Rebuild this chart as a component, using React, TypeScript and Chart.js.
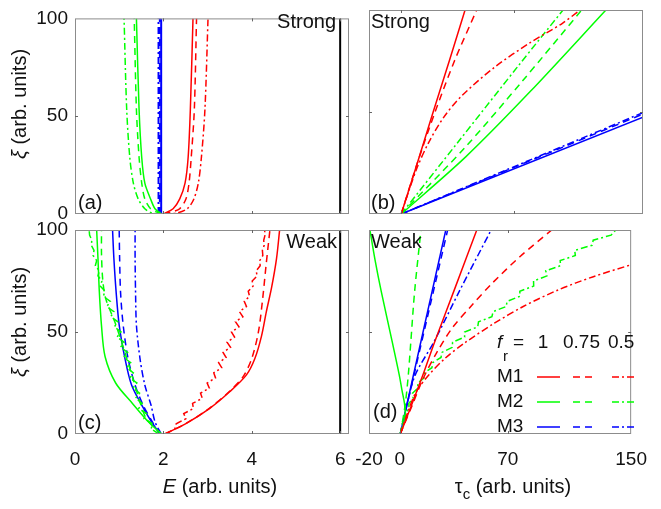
import React, { useEffect, useRef } from "react";
import { Chart, registerables } from "chart.js";
Chart.register(...registerables);

const W = 661;
const H = 509;
const FONT = "'Liberation Sans', Arial, Helvetica, sans-serif";
const RED = "#ff0000";
const GREEN = "#00ff00";
const BLUE = "#0000ff";
const BLACK = "#000000";
const SOLID: number[] = [];
const DASH = [7, 5];
const DASHDOT = [7, 3, 2, 3];

// tick values
const eTicks = [0, 2, 4, 6];
const tauTicks = [-20, 0, 70, 150];
const xiTicks = [0, 50, 100];

// legend texts
const frValues = ["1", "0.75", "0.5"];
const modelNames = ["M1", "M2", "M3"];

// ---------- Panel (a): Strong, [E, xi] ----------
const aM1f1 = [[2.0, 0], [2.22, 2.7], [2.37, 7.7], [2.49, 15.8], [2.56, 28.9], [2.61, 53.4], [2.67, 100]];
const aM1f075 = [[2.0, 0], [2.22, 1.2], [2.37, 2.7], [2.51, 7.7], [2.58, 15.8], [2.63, 28.9], [2.7, 53.4], [2.75, 100]];
const aM1f05 = [[2.0, 0], [2.3, 0.5], [2.54, 2.7], [2.69, 7.7], [2.79, 15.8], [2.86, 28.9], [2.94, 53.4], [3.01, 100]];
const aM2f1 = [[1.96, 0], [1.81, 2.7], [1.71, 7.7], [1.58, 15.8], [1.51, 28.9], [1.45, 53.4], [1.39, 100]];
const aM2f075 = [[1.96, 0], [1.85, 1], [1.71, 2.7], [1.58, 7.7], [1.51, 15.8], [1.45, 28.9], [1.39, 53.4], [1.34, 100]];
const aM2f05 = [[1.96, 0], [1.75, 0.5], [1.58, 2.7], [1.43, 7.7], [1.32, 15.8], [1.24, 28.9], [1.17, 53.4], [1.11, 100]];
const aM3f1 = [[1.95, 0], [1.95, 100]];
const aM3f075 = [[1.92, 0], [1.92, 100]];
const aM3f05 = [[1.89, 0], [1.89, 100]];
const refLineE = [[6, 0], [6, 100]];

// ---------- Panel (b): Strong, [tau, xi] ----------
const bM1f1 = [[0, 0], [10, 25], [20, 50.5], [30, 75.5], [39.6, 100]];
const bM1f075 = [[0, 0], [10, 25], [21, 50], [33, 75], [46.8, 100]];
const bM1f05 = [[0, 0], [5, 12], [10, 23], [17, 35], [26, 47], [37, 57.5], [58, 72], [80, 84], [100, 93.5], [111, 100]];
const bM2f1 = [[0, 0], [40, 28], [80, 60], [127, 100]];
const bM2f075 = [[0, 0], [40, 33], [75, 65], [112, 100]];
const bM2f05 = [[0, 0], [36, 36], [73, 73], [100.4, 100]];
const bM3f1 = [[0, 0], [150, 47.5]];
const bM3f075 = [[0, 0], [150, 49]];
const bM3f05 = [[0, 0], [150, 49.7]];

// ---------- Panel (c): Weak, [E, xi] ----------
const cM1f1 = [[2.03, 0], [2.5, 5], [3.05, 12.6], [3.5, 20.7], [3.88, 29], [4.07, 37], [4.22, 48], [4.33, 60], [4.45, 72], [4.56, 86], [4.63, 100]];
const cM1f075 = [[2.03, 0], [2.5, 5], [3.0, 12], [3.45, 20], [3.8, 28], [4.0, 37], [4.15, 50], [4.24, 65], [4.32, 82], [4.41, 100]];
const cM2f1 = [[1.96, 0], [1.66, 6], [1.3, 15], [0.92, 25], [0.68, 38], [0.6, 53], [0.55, 70], [0.52, 86], [0.49, 100]];
const cM2f075 = [[1.96, 0], [1.75, 4], [1.6, 8], [1.45, 17], [1.3, 28], [1.1, 42], [0.9, 55], [0.7, 66], [0.63, 75], [0.6, 88], [0.6, 100]];
const cM3f1 = [[1.92, 0], [1.73, 6], [1.51, 14.2], [1.28, 24], [1.13, 37.1], [1.0, 53.4], [0.93, 69.8], [0.88, 86], [0.85, 100]];
const cM3f075 = [[1.93, 0], [1.75, 6], [1.54, 14.2], [1.36, 24], [1.2, 37.1], [1.09, 53.4], [1.03, 69.8], [1.01, 86], [1.0, 100]];
const cM3f05 = [[1.95, 0], [1.81, 6], [1.72, 14.2], [1.58, 24], [1.47, 37.1], [1.39, 53.4], [1.37, 69.8], [1.36, 86], [1.36, 100]];
// noisy curves sampled on a common xi grid
const xiGrid = [0, 2.5, 5, 7.5, 10, 12.5, 15, 17.5, 20, 22.5, 25, 27.5, 30, 32.5, 35, 37.5, 40, 42.5, 45, 47.5, 50, 52.5, 55, 57.5, 60, 62.5, 65, 67.5, 70, 72.5, 75, 77.5, 80, 82.5, 85, 87.5, 90, 92.5, 95, 97.5, 100];
const cM1f05E = [2.05, 2.26, 2.29, 2.51, 2.46, 2.68, 2.66, 2.88, 2.84, 3.04, 2.99, 3.18, 3.14, 3.32, 3.25, 3.42, 3.35, 3.52, 3.44, 3.61, 3.54, 3.71, 3.63, 3.8, 3.72, 3.88, 3.83, 3.95, 3.92, 4.03, 4.01, 4.12, 4.1, 4.19, 4.18, 4.25, 4.24, 4.28, 4.27, 4.3, 4.29];
const cM2f05E = [1.9, 1.72, 1.76, 1.56, 1.62, 1.44, 1.52, 1.37, 1.46, 1.31, 1.4, 1.24, 1.32, 1.17, 1.26, 1.1, 1.19, 1.03, 1.11, 0.95, 1.04, 0.89, 0.97, 0.81, 0.88, 0.72, 0.8, 0.64, 0.68, 0.57, 0.61, 0.52, 0.55, 0.46, 0.49, 0.41, 0.43, 0.37, 0.38, 0.33, 0.32];

// ---------- Panel (d): Weak, [tau, xi] ----------
const dM1f1 = [[0.3, 0], [7.5, 14], [15, 29], [22.5, 45], [36, 72], [49.9, 100]];
const dM1f075 = [[0.3, 0], [8, 14], [15, 27], [24, 40], [34, 52], [46, 62.5], [60, 74], [78, 87], [98.5, 100]];
const dM1f05 = [[0.3, 0], [5.3, 11], [10.6, 20.7], [18.9, 29], [29.2, 37], [42.7, 45], [61.3, 54.3], [80, 62.5], [102.6, 70.6], [125, 77], [150, 83]];
const dM2f1 = [[0.3, 0], [2.5, 5], [3.5, 10], [3.0, 15], [1.5, 21], [-0.4, 29], [-4.9, 45], [-12.1, 70], [-16, 85], [-19.4, 100]];
const dM2f075 = [[0.3, 0], [3.4, 14], [5.5, 29], [7.1, 45], [9.6, 70], [13.7, 100]];
const dM2f05Tau = [0, 1.5, 1.5, 3.8, 3.3, 6, 5.8, 8.6, 8.2, 11.7, 11.6, 15.7, 16, 20.8, 21.4, 26.7, 27.3, 34, 34.2, 42, 42, 50.5, 51, 59.7, 60.5, 69, 69.5, 77.9, 77.8, 86.8, 86.7, 95.4, 94.6, 104.2, 104, 113.8, 113.4, 124.6, 125.4, 137, 140];
const dM3f1 = [[0.3, 0], [29.8, 100]];
const dM3f075 = [[0.3, 0], [31, 100]];
const dM3f05 = [[0.3, 0], [4.5, 14], [10, 29], [22, 45], [38.6, 70], [59.2, 100]];

// ---------- helpers ----------
function pairs(xs: number[], ys: number[]) {
  return xs.map((x, i) => [x, ys[i]]);
}

function ds(points: number[][], color: string, dash: number[], tension = 0.3, width = 1.5) {
  return {
    data: points.map(([x, y]) => ({ x, y })),
    borderColor: color,
    backgroundColor: color,
    borderWidth: width,
    borderDash: dash,
    pointRadius: 0,
    pointHoverRadius: 0,
    showLine: true,
    fill: false,
    tension,
  };
}

type Part = { t: string; italic?: boolean; size?: number; dy?: number };

function font(size: number, italic = false) {
  return `${italic ? "italic " : ""}${size}px ${FONT}`;
}

function richWidth(ctx: CanvasRenderingContext2D, parts: Part[], base: number) {
  let w = 0;
  for (const p of parts) {
    ctx.font = font(p.size || base, p.italic);
    w += ctx.measureText(p.t).width;
  }
  return w;
}

function drawRich(ctx: CanvasRenderingContext2D, parts: Part[], cx: number, cy: number, base: number, rotate = false) {
  ctx.save();
  ctx.translate(cx, cy);
  if (rotate) ctx.rotate(-Math.PI / 2);
  ctx.fillStyle = "#111";
  ctx.textBaseline = "middle";
  ctx.textAlign = "left";
  let x = -richWidth(ctx, parts, base) / 2;
  for (const p of parts) {
    ctx.font = font(p.size || base, p.italic);
    ctx.fillText(p.t, x, p.dy || 0);
    x += ctx.measureText(p.t).width;
  }
  ctx.restore();
}

function text(ctx: CanvasRenderingContext2D, s: string, x: number, y: number, align: CanvasTextAlign = "left", size = 20, italic = false) {
  ctx.save();
  ctx.font = font(size, italic);
  ctx.fillStyle = "#111";
  ctx.textAlign = align;
  ctx.textBaseline = "middle";
  ctx.fillText(s, x, y);
  ctx.restore();
}

function seg(ctx: CanvasRenderingContext2D, x1: number, x2: number, y: number, color: string, dash: number[]) {
  ctx.save();
  ctx.strokeStyle = color;
  ctx.lineWidth = 1.5;
  ctx.setLineDash(dash);
  ctx.beginPath();
  ctx.moveTo(x1, y);
  ctx.lineTo(x2, y);
  ctx.stroke();
  ctx.restore();
}

const yTitle: Part[] = [{ t: "ξ", italic: true }, { t: " (arb. units)" }];

type PanelCfg = {
  area: [number, number, number, number];
  xMin: number;
  xMax: number;
  xTicks: number[];
  showX: boolean;
  showY: boolean;
  datasets: any[];
  draw: (ctx: CanvasRenderingContext2D) => void;
};

const panels: PanelCfg[] = [
  {
    area: [75, 10, 349, 214],
    xMin: 0,
    xMax: 6.2,
    xTicks: eTicks,
    showX: false,
    showY: true,
    datasets: [
      ds(refLineE, BLACK, SOLID, 0, 2),
      ds(aM1f1, RED, SOLID),
      ds(aM1f075, RED, DASH),
      ds(aM1f05, RED, DASHDOT),
      ds(aM2f1, GREEN, SOLID),
      ds(aM2f075, GREEN, DASH),
      ds(aM2f05, GREEN, DASHDOT),
      ds(aM3f1, BLUE, SOLID, 0, 2),
      ds(aM3f075, BLUE, DASH, 0, 2),
      ds(aM3f05, BLUE, DASHDOT, 0, 2),
    ],
    draw: (ctx) => {
      text(ctx, "Strong", 336, 22, "right");
      text(ctx, "(a)", 78, 203);
      drawRich(ctx, yTitle, 20, 104, 20, true);
    },
  },
  {
    area: [369, 10, 643, 214],
    xMin: -20,
    xMax: 150,
    xTicks: tauTicks,
    showX: false,
    showY: false,
    datasets: [
      ds(bM1f1, RED, SOLID),
      ds(bM1f075, RED, DASH),
      ds(bM1f05, RED, DASHDOT),
      ds(bM2f1, GREEN, SOLID),
      ds(bM2f075, GREEN, DASH),
      ds(bM2f05, GREEN, DASHDOT),
      ds(bM3f1, BLUE, SOLID, 0),
      ds(bM3f075, BLUE, DASH, 0),
      ds(bM3f05, BLUE, DASHDOT, 0),
    ],
    draw: (ctx) => {
      text(ctx, "Strong", 371, 22);
      text(ctx, "(b)", 371, 203);
    },
  },
  {
    area: [75, 230, 349, 434],
    xMin: 0,
    xMax: 6.2,
    xTicks: eTicks,
    showX: true,
    showY: true,
    datasets: [
      ds(refLineE, BLACK, SOLID, 0, 2),
      ds(cM1f1, RED, SOLID),
      ds(cM1f075, RED, DASH),
      ds(pairs(cM1f05E, xiGrid), RED, DASHDOT, 0),
      ds(cM2f1, GREEN, SOLID),
      ds(cM2f075, GREEN, DASH),
      ds(pairs(cM2f05E, xiGrid), GREEN, DASHDOT, 0),
      ds(cM3f1, BLUE, SOLID),
      ds(cM3f075, BLUE, DASH),
      ds(cM3f05, BLUE, DASHDOT),
    ],
    draw: (ctx) => {
      text(ctx, "Weak", 337, 242, "right");
      text(ctx, "(c)", 78, 423);
      drawRich(ctx, yTitle, 20, 322, 20, true);
      drawRich(ctx, [{ t: "E", italic: true }, { t: " (arb. units)" }], 220, 487, 20);
    },
  },
  {
    area: [369, 230, 643, 434],
    xMin: -20,
    xMax: 150,
    xTicks: tauTicks,
    showX: true,
    showY: false,
    datasets: [
      ds(dM1f1, RED, SOLID),
      ds(dM1f075, RED, DASH),
      ds(dM1f05, RED, DASHDOT),
      ds(dM2f1, GREEN, SOLID),
      ds(dM2f075, GREEN, DASH),
      ds(pairs(dM2f05Tau, xiGrid), GREEN, DASHDOT, 0),
      ds(dM3f1, BLUE, SOLID, 0),
      ds(dM3f075, BLUE, DASH, 0),
      ds(dM3f05, BLUE, DASHDOT),
    ],
    draw: (ctx) => {
      text(ctx, "Weak", 371, 242);
      text(ctx, "(d)", 373, 412);
      drawRich(ctx, [{ t: "τ" }, { t: "c", size: 15, dy: 8 }, { t: " (arb. units)" }], 513, 487, 20);
      // legend
      text(ctx, "f", 497, 343, "left", 19, true);
      text(ctx, "r", 503, 357, "left", 15);
      text(ctx, "=", 513, 343, "left", 19);
      text(ctx, frValues[0], 543, 343, "center", 19);
      text(ctx, frValues[1], 563, 343, "left", 19);
      text(ctx, frValues[2], 608, 343, "left", 19);
      const rows = [RED, GREEN, BLUE];
      const ys = [377, 402, 427];
      rows.forEach((c, i) => {
        text(ctx, modelNames[i], 497, ys[i], "left", 19);
        seg(ctx, 537, 560, ys[i], c, SOLID);
        seg(ctx, 573, 594, ys[i], c, DASH);
        seg(ctx, 612, 636, ys[i], c, DASHDOT);
      });
    },
  },
];

function buildConfig(p: PanelCfg): any {
  const [L, T, R, B] = p.area;
  const yW = p.showY ? 50 : 6;
  const xH = p.showX ? 40 : 6;
  const tickFont = { family: FONT, size: 19 };
  const deco = {
    id: "deco",
    afterDatasetsDraw(chart: any) {
      const ctx: CanvasRenderingContext2D = chart.ctx;
      const { left, top, right, bottom } = chart.chartArea;
      const xs = chart.scales.x;
      const ys = chart.scales.y;
      ctx.save();
      ctx.strokeStyle = "#8c8c8c";
      ctx.lineWidth = 1;
      ctx.strokeRect(left + 0.5, top + 0.5, right - left - 1, bottom - top - 1);
      ctx.strokeStyle = "#666";
      ctx.beginPath();
      for (const v of p.xTicks) {
        const px = Math.round(xs.getPixelForValue(v)) + 0.5;
        if (px < left + 2 || px > right - 2) continue;
        ctx.moveTo(px, bottom);
        ctx.lineTo(px, bottom - 3);
        ctx.moveTo(px, top);
        ctx.lineTo(px, top + 3);
      }
      for (const v of xiTicks) {
        const py = Math.round(ys.getPixelForValue(v)) + 0.5;
        if (py < top + 2 || py > bottom - 2) continue;
        ctx.moveTo(left, py);
        ctx.lineTo(left + 3, py);
        ctx.moveTo(right, py);
        ctx.lineTo(right - 3, py);
      }
      ctx.stroke();
      ctx.restore();
    },
    afterDraw(chart: any) {
      p.draw(chart.ctx);
    },
  };
  return {
    type: "scatter",
    data: { datasets: p.datasets },
    options: {
      responsive: false,
      animation: false,
      events: [],
      layout: { padding: { left: L - yW, top: T, right: W - R, bottom: H - B - xH } },
      plugins: { legend: { display: false }, tooltip: { enabled: false } },
      scales: {
        x: {
          type: "linear",
          min: p.xMin,
          max: p.xMax,
          afterBuildTicks: (s: any) => {
            s.ticks = p.xTicks.map((v) => ({ value: v }));
          },
          afterFit: (s: any) => {
            s.height = xH;
          },
          grid: { display: false, drawTicks: false },
          border: { display: false },
          ticks: {
            display: p.showX,
            padding: 14,
            font: tickFont,
            color: "#111",
            maxRotation: 0,
            autoSkip: false,
            callback: (v: any) => String(v),
          },
        },
        y: {
          type: "linear",
          min: 0,
          max: 100,
          afterBuildTicks: (s: any) => {
            s.ticks = xiTicks.map((v) => ({ value: v }));
          },
          afterFit: (s: any) => {
            s.width = yW;
          },
          grid: { display: false, drawTicks: false },
          border: { display: false },
          ticks: {
            display: p.showY,
            padding: 7,
            font: tickFont,
            color: "#111",
            autoSkip: false,
            callback: (v: any) => String(v),
          },
        },
      },
    },
    plugins: [deco],
  };
}

function PanelCanvas({ cfg }: { cfg: PanelCfg }) {
  const ref = useRef<HTMLCanvasElement | null>(null);
  useEffect(() => {
    if (!ref.current) return;
    const chart = new Chart(ref.current, buildConfig(cfg));
    return () => chart.destroy();
  }, [cfg]);
  return (
    <canvas
      ref={ref}
      width={W}
      height={H}
      style={{ position: "absolute", left: 0, top: 0, width: W, height: H }}
    />
  );
}

export default function App() {
  return (
    <div style={{ position: "absolute", left: 0, top: 0, width: W, height: H, background: "#fff" }}>
      {panels.map((p, i) => (
        <PanelCanvas key={i} cfg={p} />
      ))}
    </div>
  );
}
